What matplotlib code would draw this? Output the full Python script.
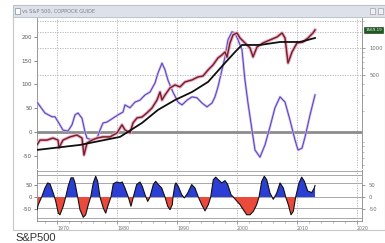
import matplotlib
matplotlib.use("Agg")
import matplotlib.pyplot as plt
from matplotlib.patches import Rectangle
import numpy as np

# ---------------- data ----------------
price_years = [1966.67, 1967.17, 1968.33, 1969.33, 1970.17, 1970.33, 1971.0, 1972.17, 1973.33,
               1974.17, 1974.5, 1975.0, 1975.83, 1976.67, 1977.67, 1978.83, 1980.0, 1980.83,
               1981.33, 1982.17, 1982.67, 1983.33, 1984.17, 1985.0, 1985.83, 1986.67, 1987.17,
               1987.5, 1988.0, 1988.83, 1989.67, 1990.5, 1991.33, 1992.5, 1993.5, 1994.33,
               1995.17, 1996.0, 1996.83, 1997.5, 1998.0, 1998.33, 1998.83, 1999.33, 2000.0,
               2000.5, 2001.33, 2002.17, 2002.67, 2003.33, 2004.33, 2005.5, 2006.67, 2007.5,
               2008.0, 2008.5, 2009.17, 2010.0, 2011.0, 2011.83, 2012.67, 2013.0]
price = [83, 94, 94, 99, 94, 77, 94, 102, 107,
         99, 64, 87, 94, 99, 102, 102, 113, 139,
         122, 113, 146, 166, 170, 189, 214, 263, 323,
         263, 299, 358, 387, 368, 418, 440, 475, 487,
         568, 647, 774, 836, 902, 790, 1137, 1396, 1470,
         1292, 1137, 1000, 794, 1026, 1137, 1228, 1327, 1470,
         1292, 680, 902, 1137, 1166, 1292, 1470, 1587]

ma_years = [1966.67, 1973.83, 1980.5, 1984.17, 1986.83, 1989.67, 1992.5, 1995.17,
            1998.0, 1999.67, 2000.83, 2002.17, 2003.83, 2007.17, 2010.5, 2013.0]
price_ma = [73, 83, 102, 146, 204, 263, 323, 418,
            681, 902, 1080, 1080, 1080, 1166, 1166, 1292]

cop_years = [1966.67, 1968.0, 1969.17, 1969.67, 1970.5, 1971.0, 1971.83, 1972.5, 1973.0,
             1973.5, 1974.17, 1974.67, 1975.0, 1975.83, 1976.67, 1977.17, 1977.67, 1978.33,
             1978.83, 1979.67, 1980.17, 1981.0, 1981.33, 1982.17, 1983.0, 1983.83, 1984.67,
             1985.5, 1986.33, 1986.83, 1987.5, 1988.0, 1988.5, 1989.33, 1990.17, 1990.83,
             1991.67, 1992.5, 1993.33, 1994.17, 1995.0, 1995.83, 1996.33, 1996.83, 1997.5,
             1998.0, 1998.5, 1999.17, 1999.67, 2000.17, 2000.83, 2001.33, 2001.83, 2002.5,
             2003.0, 2003.83, 2004.67, 2005.5, 2006.33, 2007.17, 2008.0, 2008.83, 2009.67,
             2010.17, 2010.83, 2011.33, 2012.17, 2013.0]
coppock = [63, 40, 32, 32, 15, 4, 2, 15, 36,
           40, 29, 0, -13, -17, -13, 4, 19, 21,
           25, 32, 36, 42, 57, 51, 63, 67, 78,
           84, 103, 124, 145, 131, 109, 84, 63, 57,
           67, 74, 72, 61, 53, 61, 74, 95, 131,
           158, 194, 211, 208, 194, 173, 109, 61, 4,
           -38, -53, -27, 11, 51, 74, 63, 25, -17,
           -38, -34, -11, 36, 78]

osc_years = [1966.67, 1966.88, 1967.45, 1968.0, 1968.45, 1968.83, 1969.38, 1969.78, 1970.22,
             1970.5, 1971.05, 1971.45, 1971.88, 1972.33, 1972.72, 1973.0, 1973.45, 1973.83,
             1974.38, 1974.78, 1975.22, 1975.62, 1976.05, 1976.45, 1976.78, 1977.17, 1977.72,
             1978.12, 1978.55, 1979.0, 1979.38, 1979.95, 1980.5, 1980.88, 1981.33, 1981.88,
             1982.33, 1982.72, 1983.28, 1983.83, 1984.22, 1984.67, 1985.12, 1985.5, 1986.05,
             1986.45, 1986.88, 1987.45, 1988.0, 1988.45, 1988.83, 1989.22, 1989.33, 1989.67,
             1989.83, 1990.22, 1990.78, 1991.22, 1991.78, 1992.45, 1993.0, 1993.55, 1994.12,
             1994.67, 1995.22, 1995.62, 1996.05, 1996.45, 1996.88, 1997.45, 1998.0, 1998.45,
             1999.0, 1999.38, 1999.95, 2000.5, 2001.05, 2001.62, 2002.17, 2002.72, 2003.28,
             2003.67, 2004.12, 2004.55, 2004.95, 2005.5, 2006.05, 2006.62, 2007.17, 2007.72,
             2008.12, 2008.55, 2009.0, 2009.38, 2009.78, 2010.33, 2010.78, 2011.22, 2011.78,
             2012.45, 2012.88, 2013.0]
osc = [-55, -33, 0, 39, 61, 57, 17, -17, -70,
       -77, -39, 0, 48, 83, 83, 61, 0, -55,
       -88, -77, -33, 0, 61, 90, 68, 0, -48,
       -70, -33, 0, 57, 65, 61, 65, 39, 0,
       -40, 0, 54, 65, 46, 10, -19, 0, 54,
       68, 54, 39, 0, -40, -55, -33, 0, 54,
       61, 46, 10, -4, 17, 54, 39, 0, -33,
       -60, -33, 0, 75, 86, 75, 61, 71, 54,
       10, 0, -17, -33, -55, -77, -77, -62, -33,
       0, 68, 90, 75, 17, -10, 17, 61, 39,
       0, -33, -77, -62, 0, 61, 86, 68, 26,
       19, 39, 50]

decades = [1970, 1980, 1990, 2000, 2010, 2020]
decade_labels = ["1970", "1980", "1990", "2000", "2010", "2020"]
left_ticks = [200, 150, 100, 50, 0, -50]
right_ticks = [500, 1000, 1500, 2000]
osc_levels = [113, 96, 61, 0, -48, -91]
osc_ticks = [50, 0, -50]
last_price_label = "1569.19"

# ---------------- figure ----------------
W, H, DPI = 385, 243, 100
fig = plt.figure(figsize=(W / DPI, H / DPI), dpi=DPI)
fig.patch.set_facecolor("white")

def fx(px):
    return px / W

def fy(py):
    return 1 - py / H

# window chrome (behind the axes)
fig.patches.append(Rectangle((fx(13), fy(230)), fx(385) - fx(13), fy(5) - fy(230),
                             transform=fig.transFigure, facecolor="white",
                             edgecolor="#c8c8c8", lw=0.8, zorder=-10))
fig.patches.append(Rectangle((fx(13), fy(17)), fx(385) - fx(13), fy(5) - fy(17),
                             transform=fig.transFigure, facecolor="#dde2ea",
                             edgecolor="#b8bcc4", lw=0.6, zorder=-9))
fig.patches.append(Rectangle((fx(15), fy(14)), fx(5), fy(0) - fy(6),
                             transform=fig.transFigure, facecolor="white",
                             edgecolor="#8090a8", lw=0.5, zorder=-8))
for xx in (370, 378):
    fig.patches.append(Rectangle((fx(xx), fy(14)), fx(5), fy(0) - fy(6),
                                 transform=fig.transFigure, facecolor="#eef0f4",
                                 edgecolor="#909090", lw=0.4, zorder=-8))
fig.text(fx(22), fy(11), "vs S&P 500, COPPOCK GUIDE", fontsize=3.6, color="#7a7f88",
         va="center", ha="left")

# ---------------- main panel ----------------
ax = fig.add_axes([fx(37), fy(168), fx(362) - fx(37), fy(18) - fy(168)])
ax.set_xlim(1966.67, 2020.83)
ax.set_ylim(-75.8, 240)
ax.set_facecolor("none")
for xd in decades:
    ax.axvline(xd, color="#b0b0b0", lw=0.6, ls=(0, (1.5, 1.5)), zorder=1)
ax.axhline(0, color="#8c8c8c", lw=2.0, zorder=2)

ax.plot(cop_years, coppock, color="#c4aeea", lw=1.7, zorder=3, solid_joinstyle="round")
ax.plot(cop_years, coppock, color="#4a3cb8", lw=0.6, zorder=4)

ax.set_yticks(left_ticks)
ax.set_yticklabels([str(v) for v in left_ticks])
ax.tick_params(axis="y", labelsize=4, colors="#555555", length=2, width=0.5, pad=1.5)
ax.set_xticks(decades)
ax.tick_params(axis="x", bottom=False, labelbottom=False)
for s in ("top", "bottom"):
    ax.spines[s].set_visible(False)
ax.spines["left"].set_color("#888888")
ax.spines["left"].set_linewidth(0.6)
ax.spines["right"].set_visible(False)

axr = ax.twinx()
axr.set_yscale("log")
axr.set_ylim(45.9, 2158)
axr.set_xlim(1966.67, 2020.83)
for v in right_ticks:
    axr.axhline(v, color="#b0b0b0", lw=0.6, ls=(0, (1.5, 1.5)), zorder=1)
axr.plot(price_years, price, color="#eea6cc", lw=2.4, zorder=5)
axr.plot(price_years, price, color="#d83838", lw=1.1, zorder=6)
axr.plot(price_years, price, color="#303030", lw=0.6, zorder=7)
axr.plot(ma_years, price_ma, color="#101010", lw=1.3, zorder=8)
axr.set_yticks([500, 1000])
axr.set_yticklabels(["500", "1000"])
axr.tick_params(axis="y", which="major", labelsize=3.8, colors="#707070", length=2.5,
                width=0.5, pad=3)
axr.tick_params(axis="y", which="minor", length=1.5, width=0.4, colors="#888888",
                labelright=False)
axr.yaxis.set_minor_formatter(matplotlib.ticker.NullFormatter())
for s in ("top", "bottom", "left"):
    axr.spines[s].set_visible(False)
axr.spines["right"].set_color("#888888")
axr.spines["right"].set_linewidth(0.6)
axr.annotate(last_price_label, xy=(1.0, price[-1]), xycoords=("axes fraction", "data"),
             xytext=(2.5, 0), textcoords="offset points", fontsize=3.0, color="white",
             va="center", ha="left",
             bbox=dict(boxstyle="square,pad=0.25", fc="#1d5a1d", ec="#0c300c", lw=0.4))

# ---------------- lower panel ----------------
ax2 = fig.add_axes([fx(37), fy(221), fx(362) - fx(37), fy(170) - fy(221)])
ax2.set_xlim(1966.67, 2020.83)
ax2.set_ylim(-104, 117)
ax2.set_facecolor("none")
for lv in osc_levels:
    ax2.axhline(lv, color="#a8a8a8", lw=0.7, zorder=1)
for xd in decades:
    ax2.axvline(xd, color="#b0b0b0", lw=0.6, ls=(0, (1.5, 1.5)), zorder=1)
ox = np.array(osc_years)
oy = np.array(osc)
ax2.fill_between(ox, oy, 0, where=oy >= 0, interpolate=True, color="#2b3fd4", lw=0, zorder=2)
ax2.fill_between(ox, oy, 0, where=oy <= 0, interpolate=True, color="#ea4a3c", lw=0, zorder=2)
ax2.plot(ox, oy, color="#111111", lw=0.8, zorder=3)
ax2.set_yticks(osc_ticks)
ax2.set_yticklabels([str(v) for v in osc_ticks])
ax2.tick_params(axis="y", labelsize=4, colors="#555555", length=2, width=0.5, pad=1.5)
ax2.set_xticks(decades)
ax2.set_xticklabels(decade_labels)
ax2.set_xticks(np.arange(1968, 2021, 2), minor=True)
ax2.tick_params(axis="x", which="major", labelsize=3.4, colors="#777777", length=2.5,
                width=0.5, pad=1)
ax2.tick_params(axis="x", which="minor", length=1.5, width=0.4, colors="#888888")
for lab in ax2.get_xticklabels():
    lab.set_ha("left")
ax2.spines["top"].set_visible(False)
for s in ("left", "right", "bottom"):
    ax2.spines[s].set_color("#888888")
    ax2.spines[s].set_linewidth(0.6)

ax2r = ax2.twinx()
ax2r.set_ylim(-104, 117)
ax2r.set_yticks(osc_ticks)
ax2r.set_yticklabels([str(v) for v in osc_ticks])
ax2r.tick_params(axis="y", labelsize=3.8, colors="#707070", length=2, width=0.5, pad=3)
for s in ("top", "bottom", "left", "right"):
    ax2r.spines[s].set_visible(False)

fig.text(fx(15), fy(238), "S&P500", fontsize=8, color="#333333", va="center", ha="left",
         family="Liberation Sans")

fig.savefig("out.png", dpi=DPI)
